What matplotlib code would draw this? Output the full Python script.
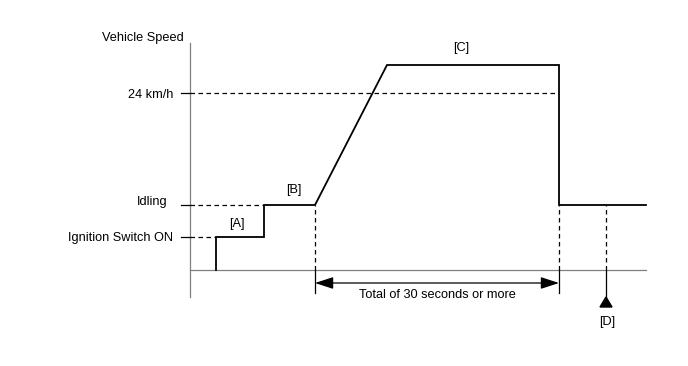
import matplotlib
matplotlib.use("Agg")
import matplotlib.pyplot as plt
from matplotlib.patches import FancyArrowPatch, Polygon

plt.rcParams['font.family'] = ['Liberation Sans', 'DejaVu Sans']

# Waveform (time units, speed units)
time = [26, 26, 74, 74, 125, 197, 369, 369, 456]
speed = [0, 33, 33, 65, 65, 205, 205, 65, 65]

IGN = 33
IDLE = 65
V24 = 177
t_start = 125
t_end = 369
t_d = 416
t_axis_end = 456

level_labels = ["Ignition Switch ON", "Idling", "24 km/h"]
level_values = [IGN, IDLE, V24]
level_label_y = [IGN, IDLE + 5, V24]
level_dash_end = [26, 74, 367]

fig = plt.figure(figsize=(6.88, 3.66), dpi=100)
ax = fig.add_axes([0, 0, 1, 1])
ax.set_xlim(-190, 498)
ax.set_ylim(-96, 270)
ax.axis('off')

fs = 9.2
gray = '#808080'
dy = -1.5
# axes
ax.plot([0, 0], [-27, 227], color=gray, lw=0.9)
ax.plot([0, t_axis_end], [0, 0], color=gray, lw=0.9)

# level ticks, dashes, labels
for lab, v, ly, de in zip(level_labels, level_values, level_label_y, level_dash_end):
    ax.plot([-9, 0], [v, v], color='black', lw=0.9)
    ax.plot([0, de], [v, v], color='black', lw=0.9, ls=(0, (3.6, 2.8)))
    ax.text(-17 if lab != "Idling" else -22, ly + dy, lab, ha='right', va='center', fontsize=fs)

ax.text(-47, 234 + dy, "Vehicle Speed", ha='center', va='center', fontsize=fs)

# waveform
ax.plot(time, speed, color='black', lw=1.3, solid_joinstyle='miter')

# vertical markers
for t in [t_start, t_end]:
    ax.plot([t, t], [0, IDLE], color='black', lw=0.9, ls=(0, (3.6, 2.8)))
    ax.plot([t, t], [0, -23], color='black', lw=0.9)
ax.plot([t_d, t_d], [0, IDLE], color='black', lw=0.9, ls=(0, (3.6, 2.8)))
ax.plot([t_d, t_d], [0, -28], color='black', lw=0.9)
ax.add_patch(Polygon([[t_d - 6, -37], [t_d + 6, -37], [t_d, -27]], closed=True,
                     color='black'))

arr = FancyArrowPatch((t_start, -13), (t_end, -13), arrowstyle='<|-|>,head_length=8,head_width=2.6',
                      color='black', lw=0.9, shrinkA=0, shrinkB=0, mutation_scale=1.4)
ax.add_patch(arr)
ax.text((t_start + t_end) / 2, -24 + dy, "Total of 30 seconds or more", ha='center', va='center',
        fontsize=fs)

# bracket labels
ax.text(47, 48 + dy, "[A]", ha='center', va='center', fontsize=fs)
ax.text(104, 81 + dy, "[B]", ha='center', va='center', fontsize=fs)
ax.text(271, 223 + dy, "[C]", ha='center', va='center', fontsize=fs)
ax.text(t_d + 1, -51 + dy, "[D]", ha='center', va='center', fontsize=fs)

fig.savefig("out.png", dpi=100)
